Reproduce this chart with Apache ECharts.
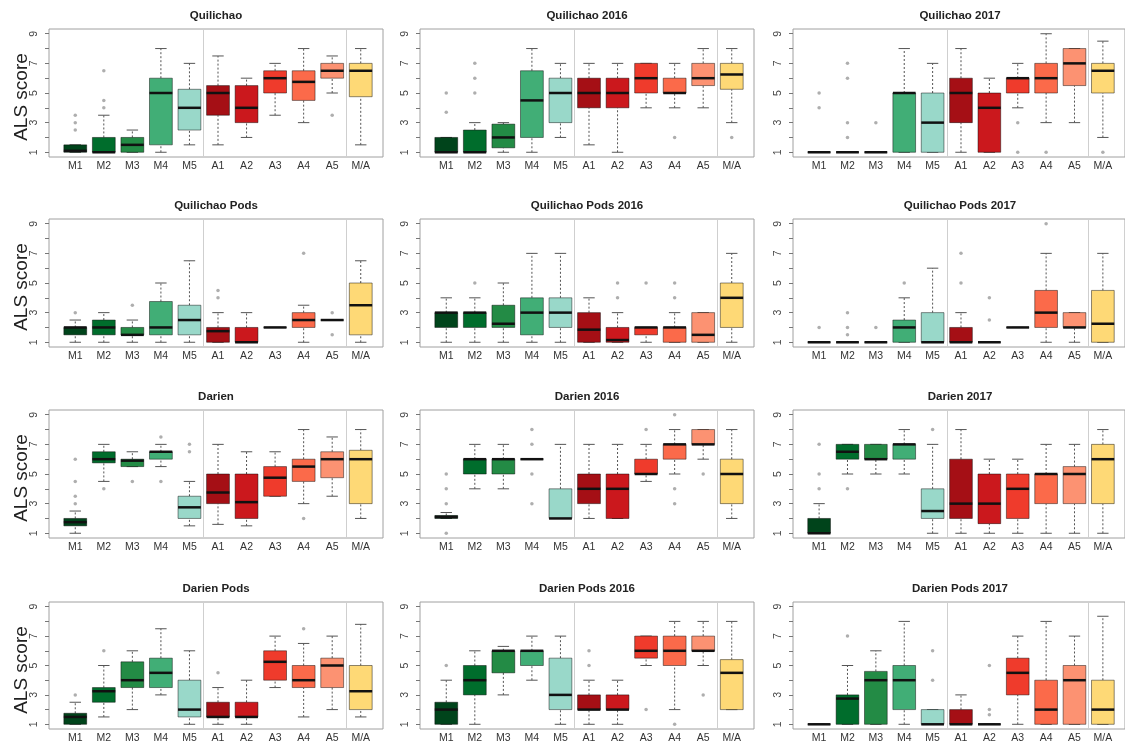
<!DOCTYPE html>
<html><head><meta charset="utf-8">
<script src="https://cdn.jsdelivr.net/npm/echarts@6/dist/echarts.min.js"></script>
<style>html,body{margin:0;padding:0;background:#fff}#c{width:1125px;height:744px}</style>
</head><body><div id="c"></div>
<script>
const categories = ['M1','M2','M3','M4','M5','A1','A2','A3','A4','A5','M/A'];
const yTicks = [1,2,3,4,5,6,7,8,9];
const yLabels = [1,3,5,7,9];
const separators = [5.5, 10.5];
const boxColors = ['#00441B','#006D2C','#238B45','#41AE76','#99D8C9','#A50F15','#CB181D','#EF3B2C','#FB6A4A','#FC9272','#FED976'];
const panelTitles = ['Quilichao','Quilichao 2016','Quilichao 2017','Quilichao Pods','Quilichao Pods 2016','Quilichao Pods 2017','Darien','Darien 2016','Darien 2017','Darien Pods','Darien Pods 2016','Darien Pods 2017'];

// each box: [lower whisker, Q1, median, Q3, upper whisker]
const quilichao = [[1,1,1.1,1.5,1.5],[1,1,1,2,3.5],[1,1,1.5,2,2.5],[1,1.5,5,6,8],[1.5,2.5,4,5.25,7],[1.5,3.5,5,5.5,7.5],[2,3,4,5.5,6],[3.5,5,6,6.5,7],[3,4.5,5.75,6.5,8],[5,6,6.5,7,7.5],[1.5,4.75,6.5,7,8]];
const quilichao2016 = [[1,1,1,2,2],[1,1,1,2.5,3],[1,1.3,2,2.9,3],[1,2,4.5,6.5,8],[2,3,5,6,7],[1.5,4,5,6,7],[1,4,5,6,7],[4,5,6,7,7],[4,5,5,6,7],[4,5.5,6,7,8],[3,5.25,6.25,7,8]];
const quilichao2017 = [[1,1,1,1,1],[1,1,1,1,1],[1,1,1,1,1],[1,1,5,5,8],[1,1,3,5,7],[1,3,5,6,8],[1,1,4,5,6],[4,5,6,6,7],[3,5,6,7,9],[3,5.5,7,8,8],[2,5,6.5,7,8.5]];
const quilichaoPods = [[1,1.5,2,2,2.5],[1,1.5,2,2.5,3],[1,1.5,1.5,2,2.5],[1,1.5,2,3.75,5],[1,1.5,2.5,3.5,6.5],[1,1,1.75,2,3],[1,1,1,2,3],[2,2,2,2,2],[1,2,2.5,3,3.5],[2.5,2.5,2.5,2.5,2.5],[1,1.5,3.5,5,6.5]];
const quilichaoPods2016 = [[1,2,3,3,4],[1,2,3,3,4],[1,2,2.25,3.5,5],[1,1.5,3,4,7],[1,2,3,4,7],[1,1,1.85,3,4],[1,1,1.15,2,3],[1,1.5,2,2,2],[1,1,2,2,3],[1,1,1.5,3,3],[1,2,4,5,7]];
const quilichaoPods2017 = [[1,1,1,1,1],[1,1,1,1,1],[1,1,1,1,1],[1,1,2,2.5,4],[1,1,1,3,6],[1,1,1,2,3],[1,1,1,1,1],[2,2,2,2,2],[1,2,3,4.5,7],[1,2,2,3,3],[1,1,2.25,4.5,7]];
const darien = [[1,1.5,1.75,2,2.5],[4.5,5.75,6,6.5,7],[5.5,5.5,5.9,6,6.5],[5.5,6,6.5,6.5,7],[1.5,2,2.75,3.5,4.5],[1.6,3,3.75,5,7],[1.5,2,3.1,5,6.5],[3.5,3.5,4.75,5.5,6.5],[3,4.5,5.5,6,8],[3.5,4.75,6,6.5,7.5],[2,3,6,6.6,8]];
const darien2016 = [[2,2,2.1,2.2,2.4],[4,5,6,6,7],[4,5,6,6,7],[6,6,6,6,6],[2,2,2,4,7],[2,3,4,5,7],[2,2,4,5,7],[4.5,5,5,6,7],[5,6,7,7,8],[6,7,7,8,8],[2,3,5,6,8]];
const darien2017 = [[1,1,1,2,3],[5,6,6.5,7,7],[5,6,6,7,7],[5,6,7,7,8],[1,2,2.5,4,7],[1,2,3,6,8],[1,1.65,3,5,6],[1,2,4,5,6],[1,3,5,5,7],[1,3,5,5.5,7],[1,3,6,7,8]];
const darienPods = [[1,1,1.5,1.75,2.5],[1.5,2.5,3.25,3.5,5],[2,3.5,4,5.25,6],[3,3.5,4.5,5.5,7.5],[1,1.5,2,4,6],[1,1.5,1.5,2.5,3.5],[1,1.5,1.5,2.5,4],[3.5,4,5.25,6,7],[1.5,3.5,4,5,6.5],[2,3.5,5,5.5,7],[1.5,2,3.25,5,7.8]];
const darienPods2016 = [[1,1,2,2.5,4],[1,3,4,5,6],[3,4.5,6,6,6.3],[4,5,6,6,7],[1,2,3,5.5,7],[1,2,2,3,4],[1,2,2,3,4],[5,5.5,6,7,7],[2,5,6,7,8],[5,6,6,7,8],[2,2,4.5,5.4,8]];
const darienPods2017 = [[1,1,1,1,1],[1,1,2.75,3,5],[1,1,4,4.6,6],[1,2,4,5,8],[1,1,1,2,2],[1,1,1,2,3],[1,1,1,1,1],[1,3,4.5,5.5,7],[1,1,2,4,8],[1,1,4,5,7],[1,1,2,4,8.35]];

// outliers: [category, value]
const quilichaoOut = [['M1',2.5],['M1',3],['M1',3.5],['M2',4],['M2',4.5],['M2',6.5],['A5',3.5]];
const quilichao2016Out = [['M1',3.7],['M1',5],['M2',5],['M2',6],['M2',7],['A4',2],['M/A',2]];
const quilichao2017Out = [['M1',4],['M1',5],['M2',2],['M2',3],['M2',6],['M2',7],['M3',3],['A3',1],['A3',3],['A4',1],['M/A',1]];
const quilichaoPodsOut = [['M1',3],['M3',3.5],['A1',4],['A1',4.5],['A4',7],['A5',1.5],['A5',3]];
const quilichaoPods2016Out = [['M2',5],['A2',4],['A2',5],['A3',5],['A4',4],['A4',5]];
const quilichaoPods2017Out = [['M1',2],['M2',1.5],['M2',2],['M2',3],['M3',2],['M4',5],['A1',5],['A1',7],['A2',2.5],['A2',4],['A4',9]];
const darienOut = [['M1',3],['M1',3.5],['M1',4.5],['M1',6],['M2',4],['M3',4.5],['M4',4.5],['M4',7.5],['M5',6.5],['M5',7],['A4',2]];
const darien2016Out = [['M1',1],['M1',3],['M1',4],['M1',5],['M4',3],['M4',5],['M4',7],['M4',8],['A3',8],['A4',3],['A4',4],['A4',9],['A5',5]];
const darien2017Out = [['M1',4],['M1',5],['M1',7],['M2',4],['M5',8]];
const darienPodsOut = [['M1',3],['M2',6],['A1',4.5],['A4',7.5]];
const darienPods2016Out = [['M1',5],['A1',5],['A1',6],['A3',2],['A4',1],['A5',3]];
const darienPods2017Out = [['M2',7],['M5',4],['M5',6],['A2',1.65],['A2',2],['A2',5]];

const panelStats = [quilichao, quilichao2016, quilichao2017, quilichaoPods, quilichaoPods2016, quilichaoPods2017, darien, darien2016, darien2017, darienPods, darienPods2016, darienPods2017];
const panelOutliers = [quilichaoOut, quilichao2016Out, quilichao2017Out, quilichaoPodsOut, quilichaoPods2016Out, quilichaoPods2017Out, darienOut, darien2016Out, darien2017Out, darienPodsOut, darienPods2016Out, darienPods2017Out];

const FONT = '"Liberation Sans", Arial, Helvetica, sans-serif';
const colLeft = [49, 420, 793];
const rowTop = [29, 219, 410, 602];
const gridW = 334, gridH = 128;

function renderBox(params, api) {
  const x = api.value(0);
  const lo = api.value(1), q1 = api.value(2), med = api.value(3), q3 = api.value(4), hi = api.value(5);
  const half = api.size([0.8, 0])[0] / 2;
  const cap = api.size([0.4, 0])[0] / 2;
  const pLo = api.coord([x, lo]), pQ1 = api.coord([x, q1]), pMed = api.coord([x, med]), pQ3 = api.coord([x, q3]), pHi = api.coord([x, hi]);
  const cx = pLo[0];
  const wStyle = {stroke: '#555', lineWidth: 1, lineDash: [2, 2], fill: null};
  const cStyle = {stroke: '#555', lineWidth: 1, fill: null};
  return {type: 'group', children: [
    {type: 'line', shape: {x1: cx, y1: pQ3[1], x2: cx, y2: pHi[1]}, style: wStyle},
    {type: 'line', shape: {x1: cx, y1: pLo[1], x2: cx, y2: pQ1[1]}, style: wStyle},
    {type: 'line', shape: {x1: cx - cap, y1: pHi[1], x2: cx + cap, y2: pHi[1]}, style: cStyle},
    {type: 'line', shape: {x1: cx - cap, y1: pLo[1], x2: cx + cap, y2: pLo[1]}, style: cStyle},
    {type: 'rect', shape: {x: cx - half, y: pQ3[1], width: 2 * half, height: pQ1[1] - pQ3[1]},
      style: {fill: boxColors[params.dataIndex], stroke: 'rgba(0,0,0,0.45)', lineWidth: 1}},
    {type: 'line', shape: {x1: cx - half, y1: pMed[1], x2: cx + half, y2: pMed[1]}, style: {stroke: '#111', lineWidth: 2.5, fill: null}}
  ]};
}

const grid = [], xAxis = [], yAxis = [], series = [], title = [], graphic = [];
panelStats.forEach((stats, p) => {
  const r = Math.floor(p / 3), c = p % 3;
  grid.push({left: colLeft[c], top: rowTop[r], width: gridW, height: gridH, show: true, borderColor: '#a0a0a0', borderWidth: 1, backgroundColor: 'transparent'});
  xAxis.push({type: 'value', gridIndex: p, min: 0.08, max: 11.78,
    axisLine: {show: false}, axisTick: {show: false}, splitLine: {show: false},
    axisLabel: {customValues: categories.map((_, i) => i + 1), formatter: v => categories[Math.round(v) - 1],
      fontSize: 10.5, color: '#333', margin: 4, fontFamily: FONT}});
  yAxis.push({type: 'value', gridIndex: p, min: 0.68, max: 9.32,
    axisLine: {show: false}, splitLine: {show: false},
    axisTick: {show: true, customValues: yTicks, length: 4, lineStyle: {color: '#777'}},
    axisLabel: {customValues: yLabels, rotate: 90, fontSize: 10.5, color: '#444', margin: 9, fontFamily: FONT}});
  series.push({type: 'custom', xAxisIndex: p, yAxisIndex: p, renderItem: renderBox, z: 2,
    data: stats.map((s, i) => [i + 1].concat(s)),
    markLine: {silent: true, symbol: 'none', label: {show: false}, lineStyle: {color: '#cfcfcf', type: 'solid', width: 1},
      data: separators.map(v => ({xAxis: v}))}});
  series.push({type: 'scatter', xAxisIndex: p, yAxisIndex: p, z: 3, symbol: 'circle', symbolSize: 3.5,
    itemStyle: {color: '#9a9a9a'},
    data: panelOutliers[p].map(o => [categories.indexOf(o[0]) + 1, o[1]])});
  title.push({text: panelTitles[p], left: colLeft[c] + gridW / 2, top: rowTop[r] - 19, textAlign: 'center', padding: 0,
    textStyle: {fontSize: 11.5, fontWeight: 'bold', color: '#222', fontFamily: FONT}});
  if (c === 0) {
    graphic.push({type: 'text', x: 22, y: rowTop[r] + gridH / 2 + 4, rotation: Math.PI / 2,
      style: {text: 'ALS score', font: '19px ' + FONT, fill: '#222', align: 'center', verticalAlign: 'middle'}});
  }
});

const chart = echarts.init(document.getElementById('c'));
chart.setOption({animation: false, backgroundColor: '#fff', title, grid, xAxis, yAxis, series, graphic});
</script>
</body></html>
